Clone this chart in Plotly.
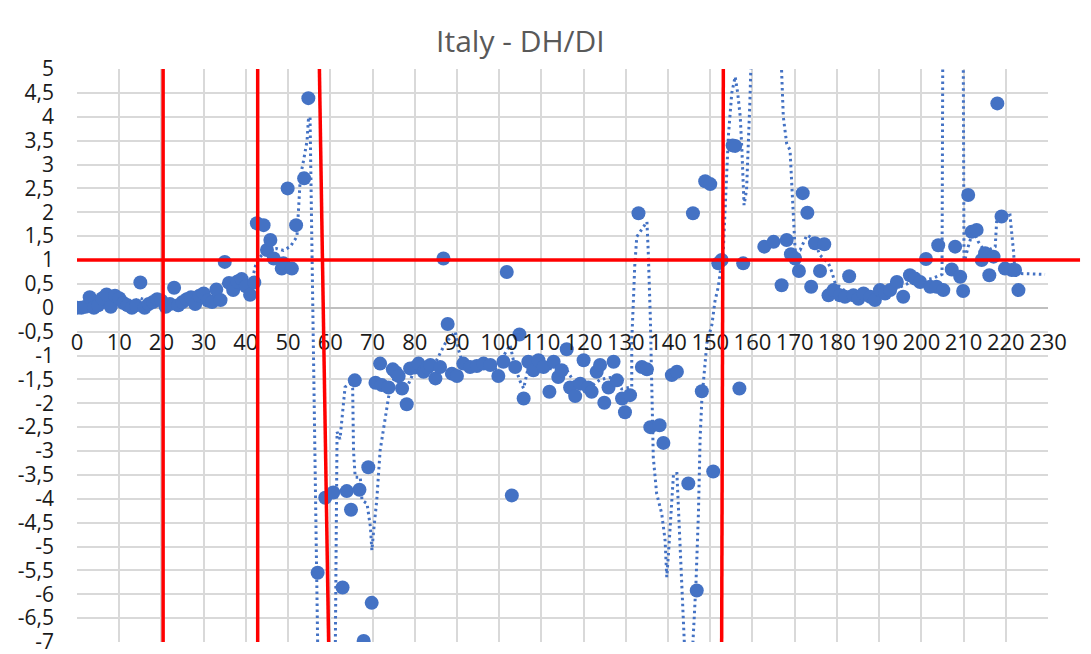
import plotly.graph_objects as go

title_text = "Italy - DH/DI"

# Scatter points (day index, DH/DI)
dh_x = [0, 1, 2, 3, 4, 5, 6, 7, 8, 9, 10, 11, 12, 13, 14, 15, 16, 17, 18, 19, 20,
        21, 22, 23, 24, 25, 26, 27, 28, 29, 30, 31, 32, 33, 34, 35, 36, 37, 38, 39, 40, 41, 42,
        42.6, 44.2, 45, 45.8, 46.6, 48.5, 48.9, 49.9, 50.9, 51.9, 53.8, 54.8,
        57, 58.8, 60.7, 62.9, 63.9, 64.9, 65.8, 66.9, 67.9, 69, 69.8, 70.7, 71.8, 72.2, 73.8,
        74.8, 75.5, 76.2, 77, 78.1, 78.9, 80, 80.9, 82.1, 83, 83.7, 84.9, 86, 86.8, 87.8, 88.8,
        90, 91.5, 93.1, 94.7, 96.3, 97.9, 99.8, 101, 101.8, 103, 103.8, 104.8, 105.8, 106.9,
        108.1, 109.3, 110.5, 111.9, 112.9, 114, 114.8, 116, 116.8, 118, 119.2, 120, 121.1,
        121.9, 123.1, 123.9, 124.9, 125.9, 127.1, 127.9, 129.1, 129.8, 131, 133, 133.8, 135,
        135.8, 138, 138.9, 140.9, 142.1, 144.8, 145.9, 146.8, 148, 148.8, 150, 150.7, 151.9,
        152.7, 155.3, 155.9, 156.9, 157.8, 162.8, 165, 166.9, 168.1, 169.1, 170.1, 171, 171.9,
        173, 173.9, 174.8, 176, 177, 178, 179.2, 180.7, 181.9, 182.9, 183.9, 185.1, 186.3,
        187.9, 189, 190.2, 191.4, 192.6, 194.2, 195.7, 197.3, 198.5, 199.7, 201.1, 202.1,
        203.6, 204, 205.2, 207.2, 208, 209.2, 209.9, 211.1, 211.9, 213.1, 214.3, 215.1, 216.1,
        217.1, 218, 219, 219.8, 221.4, 222.2, 223]
dh_y = [0.0, 0.0, 0.02, 0.22, 0.0, 0.05, 0.2, 0.28, 0.02, 0.25, 0.2, 0.1, 0.05, 0.0, 0.05, 0.53,
        0.0, 0.08, 0.12, 0.18, 0.15, 0.02, 0.08, 0.42, 0.05, 0.12, 0.18, 0.22, 0.08, 0.25, 0.3,
        0.15, 0.12, 0.38, 0.16, 0.96, 0.52, 0.37, 0.55, 0.6, 0.45, 0.27, 0.53,
        1.77, 1.73, 1.21, 1.42, 1.03, 0.82, 0.93, 2.5, 0.82, 1.73, 2.71, 4.39,
        -5.55, -3.98, -3.87, -5.86, -3.84, -4.23, -1.52, -3.81, -6.98, -3.34, -6.18, -1.57,
        -1.17, -1.62, -1.67, -1.29, -1.35, -1.43, -1.69, -2.02, -1.27, -1.25, -1.17, -1.34,
        -1.25, -1.2, -1.48, -1.24, 1.03, -0.34, -1.38, -1.43, -1.17, -1.24, -1.22, -1.17, -1.2,
        -1.43, -1.13, 0.75, -3.93, -1.24, -0.56, -1.9, -1.13, -1.31, -1.1, -1.24, -1.76, -1.13,
        -1.45, -1.31, -0.87, -1.67, -1.85, -1.59, -1.1, -1.67, -1.76, -1.34, -1.2, -1.99, -1.67,
        -1.13, -1.52, -1.9, -2.19, -1.83, 1.98, -1.24, -1.29, -2.5, -2.46, -2.83, -1.41, -1.34,
        -3.68, 1.98, -5.92, -1.75, 2.65, 2.59, -3.43, 0.93, 1.0, 3.4, 3.39, -1.69, 0.93, 1.28,
        1.38, 0.47, 1.42, 1.12, 1.03, 0.77, 2.4, 1.99, 0.44, 1.35, 0.77, 1.33, 0.26, 0.37, 0.26,
        0.23, 0.66, 0.26, 0.19, 0.3, 0.23, 0.16, 0.37, 0.3, 0.37, 0.54, 0.23, 0.68, 0.61, 0.54,
        1.02, 0.44, 0.44, 1.31, 0.37, 0.8, 1.28, 0.65, 0.35, 2.36, 1.59, 1.63, 1.0, 1.14, 0.68,
        1.07, 4.28, 1.91, 0.82, 0.79, 0.79, 0.37]

# Moving-average trend line (goes beyond the visible range)
trend_x = [0, 3, 6, 9, 12, 15, 18, 21, 24, 27, 30, 33, 35, 37, 39, 41, 42.6, 45, 47.3, 48.9,
           50.5, 52.1, 52.5, 52.9, 53.7, 54.5, 54.8, 55.2, 57.0, 57.1, 61.1, 61.2, 61.6, 62.3,
           63.5, 64.7, 65.3, 65.5, 65.9, 67.1, 67.5, 68.7, 69.5, 69.85, 70.2, 71, 71.8, 73,
           73.8, 75, 77, 78.5, 80, 84, 86.4, 87.2, 89.6, 90.4, 91.5, 95, 99, 101.8, 102.6, 103.6,
           105, 105.8, 107, 110, 113, 116, 118, 121, 124, 127, 129, 131.4, 131.4, 131.8, 132.1,
           132.6, 133.8, 135, 135.3, 135.8, 136.2, 136.5, 137.3, 138.5, 139.3, 139.7, 140.1,
           140.9, 141.3, 142.1, 142.5, 142.9, 143.6, 144.1, 144.3, 145.7, 145.9, 146.6, 147.2,
           147.6, 148, 149.2, 150.4, 151.1, 151.9, 153.1, 153.5, 153.9, 154.3, 155.1, 155.9,
           156.5, 157.1, 157.5, 157.8, 158, 158.6, 159, 159.4, 159.6, 159.8, 166.7, 166.9, 167.3,
           168.1, 168.9, 169.3, 169.7, 170.1, 171.3, 172.9, 174.4, 176, 178, 178.8, 179.6, 182,
           186, 190, 194, 198, 202.5, 204.9, 205.1, 209.9, 210.1, 210.3, 211.1, 212.3, 213.5,
           215.1, 217.5, 217.9, 219, 221, 221.8, 222.2, 229.3]
trend_y = [0.02, 0.1, 0.12, 0.15, 0.08, 0.2, 0.1, 0.1, 0.15, 0.15, 0.22, 0.25, 0.55, 0.45, 0.5,
           0.4, 1.0, 1.2, 1.24, 1.2, 1.28, 1.49, 2.1, 2.74, 3.1, 3.5, 3.93, 4.0, -7.0, -9, -9,
           -7, -2.6, -2.75, -1.66, -1.58, -1.7, -3.0, -3.55, -3.55, -4.03, -4.1, -4.59, -5.08,
           -4.73, -4.03, -2.99, -2.29, -1.87, -1.5, -1.6, -1.6, -1.3, -1.3, -0.89, -0.75, -0.5,
           -0.89, -1.2, -1.2, -1.3, -0.89, -0.78, -1.2, -1.55, -1.69, -1.2, -1.2, -1.3, -1.3,
           -1.6, -1.7, -1.5, -1.45, -1.7, -1.66, -0.68, 0.16, 0.86, 1.49, 1.66, 1.8, 1.2, -0.19,
           -1.85, -3.13, -3.89, -4.31, -4.87, -5.64, -5.15, -3.89, -3.47, -3.47, -4.31, -5.43,
           -6.62, -7.5, -9, -9, -7, -5.8, -4.3, -2.72, -1.93, -0.74, -0.35, 0.13, 0.44, 1.23,
           2.02, 2.82, 3.61, 4.5, 4.84, 4.5, 4.0, 3.3, 2.26, 2.15, 2.47, 3.3, 4.35, 5.0, 6, 6,
           4.95, 4.0, 3.44, 3.3, 2.6, 1.77, 1.21, 1.21, 1.52, 1.45, 1.1, 0.93, 0.75, 0.51, 0.35,
           0.28, 0.28, 0.4, 0.55, 0.61, 0.7, 6, 6, 1.0, 1.0, 1.28, 1.63, 1.38, 1.17, 1.28, 1.91,
           1.91, 1.94, 1.21, 0.72, 0.7]

# Red reference lines (data coordinates)
vline_top_x = [20.4, 42.8, 57.4, 153.1]
vline_bottom_x = [20.4, 42.8, 59.6, 152.7]
hline_y = [1.0]

x_ticks = list(range(0, 231, 10))
y_ticks = [v / 2 for v in range(-14, 11)]
y_ticktext = [(str(int(v)) if v == int(v) else str(v)).replace(".", ",") for v in y_ticks]

X_MIN, X_MAX, Y_MIN, Y_MAX = 0, 230, -7, 5
BLUE = "#4472C4"
RED = "#FF0000"
FONT = "Open Sans"

fig = go.Figure()
fig.add_trace(go.Scatter(x=trend_x, y=trend_y, mode="lines",
                         line=dict(color=BLUE, width=3, dash="2.5px,3.5px"),
                         hoverinfo="skip", showlegend=False))
fig.add_trace(go.Scatter(x=dh_x, y=dh_y, mode="markers",
                         marker=dict(color=BLUE, size=14, line=dict(width=0)),
                         showlegend=False))

shapes = []
y_top = Y_MAX + 0.08
for xt, xb in zip(vline_top_x, vline_bottom_x):
    shapes.append(dict(type="line", xref="x", yref="y", x0=xt, y0=y_top, x1=xb, y1=Y_MIN,
                       line=dict(color=RED, width=3.5), layer="above"))
for hy in hline_y:
    shapes.append(dict(type="line", xref="paper", yref="y", x0=0, y0=hy, x1=1.033, y1=hy,
                       line=dict(color=RED, width=3.5), layer="above"))

zero_frac = (0 - Y_MIN) / (Y_MAX - Y_MIN)

fig.update_layout(
    width=1091, height=654,
    margin=dict(l=77, r=43, t=69, b=12, autoexpand=False),
    paper_bgcolor="white", plot_bgcolor="white",
    title=dict(text=title_text, x=0.477, xanchor="center", y=0.936, yanchor="middle",
               font=dict(family=FONT, size=30, color="#595959")),
    shapes=shapes,
    xaxis=dict(range=[X_MIN, X_MAX], tickvals=x_ticks, ticktext=[str(t) for t in x_ticks],
               showgrid=True, gridcolor="#d9d9d9", gridwidth=1.5, zeroline=False,
               showline=False, ticks="", anchor="free", position=zero_frac,
               ticklabelstandoff=19, automargin=False,
               tickfont=dict(family=FONT, size=22, color="#1a1a1a")),
    yaxis=dict(range=[Y_MIN, Y_MAX], tickvals=y_ticks, ticktext=y_ticktext,
               showgrid=True, gridcolor="#d9d9d9", gridwidth=1.5,
               zeroline=True, zerolinecolor="#bfbfbf", zerolinewidth=1.5,
               showline=False, ticks="", ticklabelstandoff=22,
               ticklabeloverflow="allow", automargin=False,
               tickfont=dict(family=FONT, size=21, color="#1a1a1a")),
)

fig.write_html("out.html", config={"displayModeBar": False},
               post_script="document.body.style.margin='0';document.body.style.overflow='hidden';")
